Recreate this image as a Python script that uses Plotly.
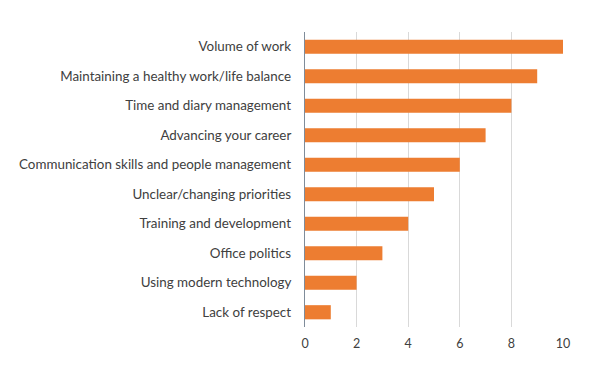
import plotly.graph_objects as go

categories = [
    "Volume of work",
    "Maintaining a healthy work/life balance",
    "Time and diary management",
    "Advancing your career",
    "Communication skills and people management",
    "Unclear/changing priorities",
    "Training and development",
    "Office politics",
    "Using modern technology",
    "Lack of respect",
]
values = [10, 9, 8, 7, 6, 5, 4, 3, 2, 1]
tick_vals = [0, 2, 4, 6, 8, 10]

fig = go.Figure(go.Bar(
    x=values, y=categories, orientation="h",
    marker=dict(color="#ED7D31", line=dict(width=0)),
    width=0.48,
))
fig.update_layout(
    width=592, height=362,
    margin=dict(l=297, r=37, t=24, b=43),
    paper_bgcolor="white", plot_bgcolor="white",
    font=dict(family="Lato, Open Sans, sans-serif", size=13.4, color="#404040"),
    showlegend=False,
)
fig.update_xaxes(
    range=[0, 10], tickvals=tick_vals, showgrid=True, gridcolor="#D9D9D9",
    gridwidth=1, zeroline=False, showline=False, ticks="",
    tickfont=dict(size=12.5, color="#404040"), ticklabelstandoff=7,
    fixedrange=True,
)
fig.update_yaxes(
    categoryorder="array", categoryarray=categories[::-1],
    range=[-0.5, 9.5],
    showline=True, linecolor="#7F8C9A", linewidth=1, ticks="",
    ticksuffix="   ", showgrid=False, fixedrange=True,
)
fig.write_html("out.html")
